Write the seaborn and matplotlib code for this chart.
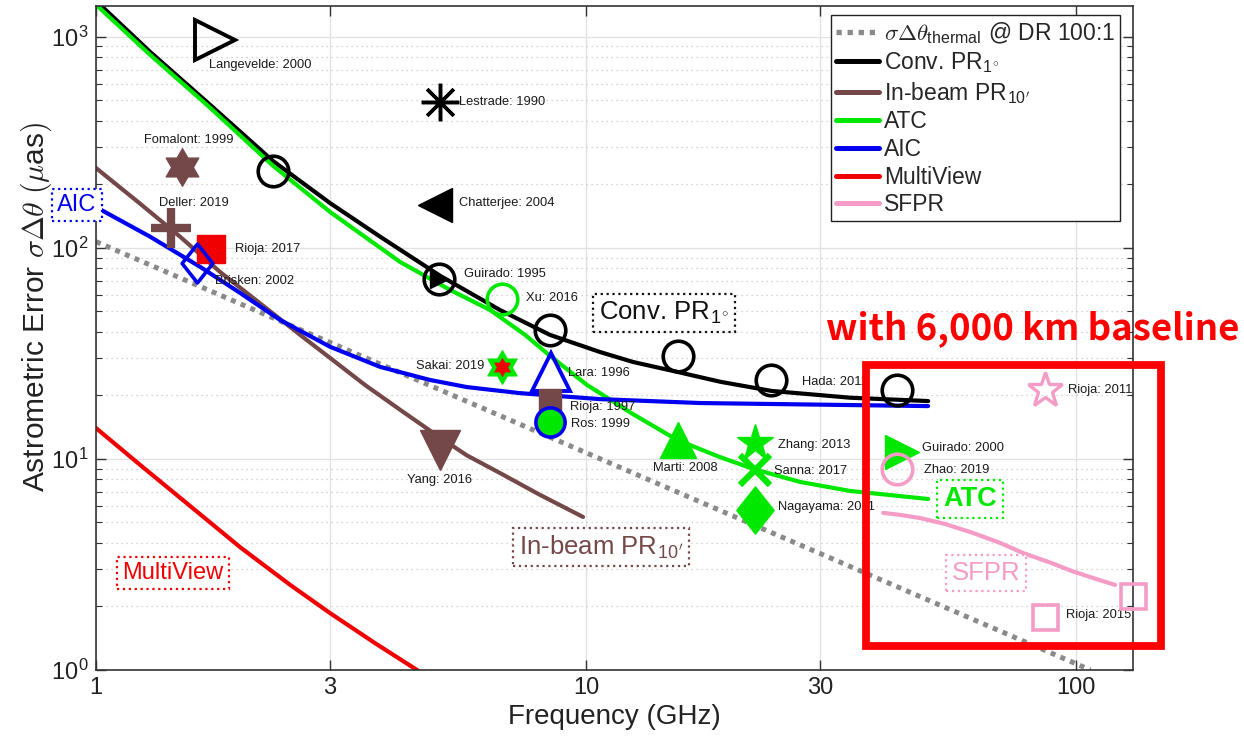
import numpy as np
import pandas as pd
import matplotlib
matplotlib.use("Agg")
import matplotlib.pyplot as plt
import seaborn as sns
from matplotlib.lines import Line2D
from matplotlib.path import Path
from matplotlib.patches import Rectangle
from matplotlib.ticker import LogLocator, NullLocator, NullFormatter, FixedLocator

# ---------------- model curves (frequency in GHz, error in micro-arcsec) -------------
thermal_freq = [1.0, 107.0]
thermal_err = [107.0, 1.0]

conv_freq = [1.0, 1.289, 1.701, 2.297, 3.003, 3.80, 5.04, 6.67, 8.44, 10.68, 12.47,
             15.4, 18.8, 23.9, 34.6, 49.9]
conv_err = [1480, 849, 481, 258, 163, 113, 73.7, 50.8, 38.7, 32.1, 28.8,
            25.8, 23.2, 21.0, 19.5, 18.8]

inbeam_freq = [1.0, 1.230, 1.484, 1.791, 2.234, 2.609, 3.003, 3.54, 4.173, 4.92, 5.71,
               6.67, 8.06, 9.86]
inbeam_err = [239, 162, 113, 76.9, 51.4, 38.7, 30.1, 22.4, 17.1, 13.1, 10.4,
              8.58, 6.75, 5.31]

atc_freq = [1.0, 1.289, 1.701, 2.297, 3.003, 4.173, 5.278, 6.37, 7.51, 8.44, 10.05,
            12.47, 15.34, 18.77, 21.93, 27.34, 34.58, 49.89]
atc_err = [1420, 822, 466, 245, 148, 85.8, 63.2, 50.8, 38.7, 30.8, 22.4,
           16.3, 12.3, 10.2, 8.97, 7.78, 7.05, 6.46]

aic_freq = [1.0, 1.289, 1.631, 1.967, 2.373, 3.003, 3.80, 4.79, 5.71, 7.33, 10.68,
            17.1, 34.6, 49.9]
aic_err = [156, 113, 81.3, 61.2, 45.6, 34.0, 27.3, 23.7, 21.9, 20.5, 19.2,
           18.4, 18.0, 17.8]

multiview_freq = [1.0, 1.230, 1.555, 1.976, 2.49, 3.003, 3.71, 4.58]
multiview_err = [14.0, 9.37, 5.99, 3.79, 2.53, 1.86, 1.34, 0.98]

sfpr_freq = [40.4, 43.7, 48.0, 54.0, 61.6, 70.0, 78.0, 88.5, 98.6, 109.3, 120.1]
sfpr_err = [5.55, 5.43, 5.25, 4.92, 4.46, 4.00, 3.58, 3.23, 2.93, 2.71, 2.53]

# ---------------- published measurements ----------------
conv_pt_freq = [2.30, 5.01, 8.45, 15.4, 23.9, 43.2]
conv_pt_err = [232, 71.3, 40.9, 30.8, 23.7, 21.2]

study_labels = ["Langevelde: 2000", "Lestrade: 1990", "Chatterjee: 2004", "Fomalont: 1999",
                "Deller: 2019", "Rioja: 2017", "Brisken: 2002", "Guirado: 1995",
                "Xu: 2016", "Sakai: 2019", "Lara: 1996", "Rioja: 1997", "Ros: 1999",
                "Yang: 2016", "Marti: 2008", "Zhang: 2013", "Sanna: 2017",
                "Nagayama: 2011", "Hada: 2011", "Guirado: 2000", "Zhao: 2019",
                "Rioja: 2011", "Rioja: 2015"]
study_freq = [1.75, 5.04, 4.92, 1.50, 1.42, 1.72, 1.61, 5.01, 6.74, 6.74, 8.48, 8.45, 8.45,
              5.04, 15.4, 22.1, 22.1, 22.1, 23.9, 44.2, 43.1, 86.4, 86.4]
study_err = [968, 492, 160, 242, 124, 99, 85, 71.3, 57.3, 27.3, 25.8, 19.0, 15.0,
             11.0, 12.3, 11.9, 8.87, 5.73, 23.7, 10.8, 8.97, 21.2, 1.78]
rioja2015_freq = [86.4, 130.7]
rioja2015_err = [1.78, 2.24]

tick_freq = [1, 3, 10, 30, 100]
tick_freq_labels = ["1", "3", "10", "30", "100"]
tick_err = [1, 10, 100, 1000]
tick_err_labels = [r"10$^{\mathregular{0}}$", r"10$^{\mathregular{1}}$",
                   r"10$^{\mathregular{2}}$", r"10$^{\mathregular{3}}$"]

# ---------------- style ----------------
sns.set_theme(style="ticks")
plt.rcParams["font.family"] = ["Liberation Sans", "DejaVu Sans"]
plt.rcParams["mathtext.fontset"] = "cm"

C_THERM = "#8a8a8a"
C_CONV = "#000000"
C_INB = "#744848"
C_ATC = "#00e800"
C_AIC = "#0000f0"
C_MV = "#f00000"
C_SFPR = "#f59cc6"

fig = plt.figure(figsize=(12.44, 7.39), dpi=100)
ax = fig.add_axes([0.0772, 0.0934, 0.8336, 0.8985])

curves = [
    ("thermal", thermal_freq, thermal_err, C_THERM),
    ("Conv", conv_freq, conv_err, C_CONV),
    ("In-beam", inbeam_freq, inbeam_err, C_INB),
    ("ATC", atc_freq, atc_err, C_ATC),
    ("AIC", aic_freq, aic_err, C_AIC),
    ("MultiView", multiview_freq, multiview_err, C_MV),
    ("SFPR", sfpr_freq, sfpr_err, C_SFPR),
]
df = pd.concat([pd.DataFrame({"model": n, "freq": f, "err": e}) for n, f, e, _ in curves],
               ignore_index=True)

ax.set_xscale("log")
ax.set_yscale("log")
for i, (name, _, _, col) in enumerate(curves):
    sub = df[df["model"] == name]
    if name == "thermal":
        sns.lineplot(data=sub, x="freq", y="err", ax=ax, color=col, lw=3.6,
                     sort=False, estimator=None, legend=False, zorder=2,
                     linestyle=(0, (1.0, 1.1)), dash_capstyle="butt")
    else:
        sns.lineplot(data=sub, x="freq", y="err", ax=ax, color=col, lw=3.0,
                     sort=False, estimator=None, legend=False, zorder=2 + i * 0.01)

# marker shapes
def star_path(n, r_in):
    verts = []
    for k in range(n):
        a_out = np.deg2rad(90 + 360 / n * k)
        a_in = np.deg2rad(90 + 360 / n * (k + 0.5))
        verts.append((np.cos(a_out), np.sin(a_out)))
        verts.append((r_in * np.cos(a_in), r_in * np.sin(a_in)))
    verts.append(verts[0])
    return Path(verts, closed=True)

hexagram = star_path(6, 1 / np.sqrt(3))
tall_diamond = Path([(0, 1), (0.79, 0), (0, -1), (-0.79, 0), (0, 1)], closed=True)

def mark(f, e, **kw):
    base = dict(linestyle="none", zorder=6, clip_on=False)
    base.update(kw)
    ax.plot(f, e, **base)

# open circles on the conventional phase-referencing curve
mark(conv_pt_freq, conv_pt_err, marker="o", ms=22, mfc="none", mec=C_CONV, mew=2.6)

marker_styles = [
    dict(marker=">", ms=29, mfc="none", mec=C_CONV, mew=2.8),
    dict(marker=(8, 2, 0), ms=27, mec=C_CONV, mew=2.5),
    dict(marker="<", ms=25, mfc=C_CONV, mec=C_CONV, mew=1),
    dict(marker=hexagram, ms=27, mfc=C_INB, mec=C_INB, mew=1),
    dict(marker="+", ms=29, mec=C_INB, mew=6),
    dict(marker="s", ms=20, mfc=C_MV, mec=C_MV, mew=1),
    dict(marker=tall_diamond, ms=28, mfc="none", mec=C_AIC, mew=2.6),
    dict(marker=">", ms=13, mfc=C_CONV, mec=C_CONV, mew=1),
    dict(marker="o", ms=22, mfc="none", mec=C_ATC, mew=2.6),
    dict(marker=hexagram, ms=24, mfc=C_ATC, mec=C_ATC, mew=1),
    dict(marker="^", ms=28, mfc="none", mec=C_AIC, mew=2.8),
    dict(marker="s", ms=16, mfc=C_INB, mec=C_INB, mew=1),
    dict(marker="o", ms=21, mfc=C_ATC, mec=C_AIC, mew=2.6),
    dict(marker="v", ms=29, mfc=C_INB, mec=C_INB, mew=1),
    dict(marker="^", ms=26, mfc=C_ATC, mec=C_ATC, mew=1),
    dict(marker="*", ms=28, mfc=C_ATC, mec=C_ATC, mew=1),
    dict(marker="x", ms=22, mec=C_ATC, mew=4.5),
    dict(marker=tall_diamond, ms=34, mfc=C_ATC, mec=C_ATC, mew=1),
    None,
    dict(marker=">", ms=25, mfc=C_ATC, mec=C_ATC, mew=1),
    dict(marker="o", ms=22, mfc="none", mec=C_SFPR, mew=2.6),
    dict(marker="*", ms=26, mfc="none", mec=C_SFPR, mew=2.4),
    dict(marker="s", ms=18, mfc="none", mec=C_SFPR, mew=2.6),
]
# (dx, dy) text offsets in pixels and alignment
label_offsets = [(-6, -25, "left"), (19, 0, "left"), (24, 2, "left"), (6, 27, "center"),
                 (23, 25, "center"), (24, 0, "left"), (18, -18, "left"), (25, 5, "left"),
                 (24, 1, "left"), (-18, 1, "right"), (17, -1, "left"), (20, -7, "left"),
                 (21, -2, "left"), (-1, -30, "center"), (7, -28, "center"), (23, -2, "left"),
                 (19, -1, "left"), (23, 3, "left"), (31, -2, "left"), (20, 4, "left"),
                 (27, -1, "left"), (23, 0, "left"), (21, 2, "left")]

for lab, f, e, st, (dx, dy, ha) in zip(study_labels, study_freq, study_err,
                                       marker_styles, label_offsets):
    if st is not None:
        if lab == "Rioja: 2015":
            mark(rioja2015_freq, rioja2015_err, **st)
        else:
            mark([f], [e], **st)
    ax.annotate(lab, (f, e), xytext=(dx, dy), textcoords="offset pixels",
                fontsize=9.3, ha=ha, va="center", color="#1a1a1a", zorder=5)

# red core of the Sakai hexagram
mark([study_freq[9]], [study_err[9]], marker=hexagram, ms=13, mfc=C_MV, mec=C_MV, mew=0.5, zorder=7)

# ---------------- axes ----------------
ax.set_xlim(1, 130.7)
ax.set_ylim(1, 1400)
ax.xaxis.set_major_locator(FixedLocator(tick_freq))
ax.set_xticklabels(tick_freq_labels)
ax.xaxis.set_minor_locator(NullLocator())
ax.yaxis.set_major_locator(FixedLocator(tick_err))
ax.set_yticklabels(tick_err_labels)
ax.yaxis.set_minor_locator(LogLocator(base=10, subs=np.arange(2, 10)))
ax.yaxis.set_minor_formatter(NullFormatter())

ax.grid(True, which="major", color="#e2e2e2", lw=1.0, ls="-", zorder=0)
ax.yaxis.grid(True, which="minor", color="#c8c8c8", lw=0.9, ls=(0, (1, 3)))
ax.set_axisbelow(True)

for s in ax.spines.values():
    s.set_color("#333333")
    s.set_linewidth(1.2)
ax.tick_params(which="both", direction="in", top=True, right=True, colors="#333333",
               labelcolor="#222222")
ax.tick_params(which="major", length=7, width=1.0, labelsize=17, pad=5)
ax.tick_params(which="minor", length=4, width=0.8)

ax.set_xlabel("Frequency (GHz)", fontsize=20, color="#222222", labelpad=4)
ax.set_ylabel(r"Astrometric Error $\sigma\Delta\theta$ $(\mu$as$)$", fontsize=21.5,
              color="#222222")
ax.yaxis.set_label_coords(-0.041, 0.547)

# ---------------- legend ----------------
handles = [
    Line2D([], [], color=C_THERM, lw=3.8, ls=(0, (1.0, 1.1)), dash_capstyle="butt"),
    Line2D([], [], color=C_CONV, lw=3.6),
    Line2D([], [], color=C_INB, lw=3.6),
    Line2D([], [], color=C_ATC, lw=3.6),
    Line2D([], [], color=C_AIC, lw=3.6),
    Line2D([], [], color=C_MV, lw=3.6),
    Line2D([], [], color=C_SFPR, lw=3.6),
]
labels = [r"$\sigma\Delta\theta_{\mathregular{thermal}}$ @ DR 100:1",
          r"Conv. PR$_{\mathregular{1}^{\circ}}$",
          r"In-beam PR$_{\mathregular{10}'}$",
          "ATC", "AIC", "MultiView", "SFPR"]
leg = ax.legend(handles, labels, loc="upper right", bbox_to_anchor=(0.9875, 0.9864),
                borderaxespad=0, fontsize=16.5, handlelength=1.9, handletextpad=0.2,
                labelspacing=0.2, borderpad=0.22, frameon=True, fancybox=False,
                framealpha=1, edgecolor="#222222")
leg.get_frame().set_linewidth(1.0)
leg.set_zorder(10)

# ---------------- in-plot method tags ----------------
def tag(x, y, text, color, bold=False, size=17):
    ax.text(x, y, text, transform=ax.transAxes, ha="center", va="center", color=color,
            fontsize=size, fontweight="bold" if bold else "normal", zorder=8, clip_on=False,
            bbox=dict(boxstyle="square,pad=0.22", fc="white", ec=color, ls=":", lw=1.6))

tag(-0.0183, 0.7003, "AIC", C_AIC)
tag(0.5477, 0.5377, r"Conv. PR$_{\mathregular{1}^{\circ}}$", "#111111", size=18.5)
tag(0.4870, 0.1852, r"In-beam PR$_{\mathregular{10}'}$", C_INB, size=18.5)
tag(0.0743, 0.1461, "MultiView", C_MV)
tag(0.8428, 0.2575, "ATC", C_ATC, bold=True, size=19.5)
tag(0.8582, 0.1461, "SFPR", C_SFPR, size=18.5)

# highlighted long-baseline region
ax.add_patch(Rectangle((0.7425, 0.0361), 1.0270 - 0.7425, 0.4593 - 0.0361,
                       transform=ax.transAxes, fill=False, ec="#ff0000", lw=5.6,
                       clip_on=False, zorder=9))
fig.text(1033 / 1244, 1 - 329 / 739, "with 6,000 km baseline", color="#ff0000",
         fontsize=26.3, fontweight="bold", family=["Noto Sans CJK KR", "DejaVu Sans"],
         ha="center", va="center")

fig.savefig("out.png", dpi=100, facecolor="white")
